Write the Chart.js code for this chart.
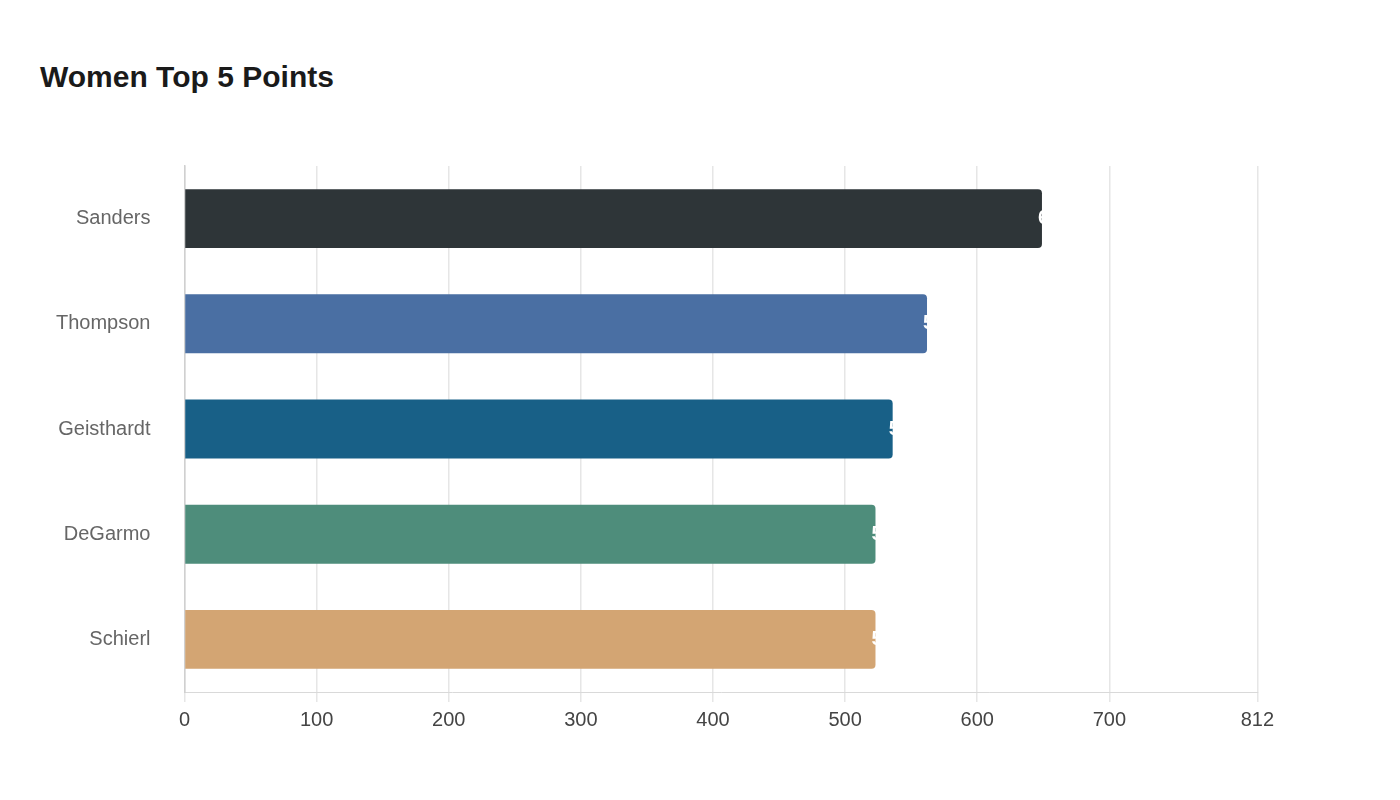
<!DOCTYPE html>
<html>
<head>
<meta charset="utf-8">
<script src="https://cdn.jsdelivr.net/npm/chart.js@4"></script>
<style>
  html, body { margin: 0; padding: 0; background: #fff; }
  #wrap { position: relative; width: 1400px; height: 800px; }
  h1 { position: absolute; left: 40px; top: 60px; margin: 0; font: bold 30px "Liberation Sans", Arial, sans-serif; color: #1a1a1a; }
  #box { position: absolute; left: 30px; top: 128px; width: 1250px; height: 610px; }
</style>
</head>
<body>
<div id="wrap">
  <h1>Women Top 5 Points</h1>
  <div id="box"><canvas id="chart"></canvas></div>
</div>
<script>
const players = ["Sanders", "Thompson", "Geisthardt", "DeGarmo", "Schierl"];
const points = [649, 562, 536, 523, 523];
const barColors = ["#2e3538", "#4a6fa3", "#186087", "#4e8d7b", "#d3a573"];
const axisMax = 812;

const endLabels = {
  id: "endLabels",
  afterDatasetsDraw(chart) {
    const ctx = chart.ctx;
    const meta = chart.getDatasetMeta(0);
    ctx.save();
    ctx.font = "bold 20px 'Liberation Sans', Arial, sans-serif";
    ctx.fillStyle = "#ffffff";
    ctx.textAlign = "left";
    ctx.textBaseline = "middle";
    meta.data.forEach((bar, i) => {
      ctx.fillText(String(points[i]), bar.x - 4, bar.y);
    });
    ctx.restore();
  }
};

new Chart(document.getElementById("chart"), {
  type: "bar",
  data: {
    labels: players,
    datasets: [{
      data: points,
      backgroundColor: barColors,
      borderRadius: 4,
      borderSkipped: "start",
      barPercentage: 0.56,
      categoryPercentage: 1
    }]
  },
  options: {
    indexAxis: "y",
    responsive: true,
    maintainAspectRatio: false,
    animation: false,
    layout: { padding: { right: 10 } },
    plugins: { legend: { display: false }, tooltip: { enabled: false } },
    scales: {
      x: {
        min: 0,
        max: axisMax,
        afterBuildTicks(axis) {
          const t = [];
          for (let v = 0; v <= 700; v += 100) t.push({ value: v });
          t.push({ value: axisMax });
          axis.ticks = t;
        },
        grid: { color: "#e6e6e6", lineWidth: 1.5, tickLength: 10 },
        border: { color: "#d9d9d9" },
        ticks: { color: "#444", font: { size: 20, family: "'Liberation Sans', Arial, sans-serif" }, padding: 6, maxRotation: 0 }
      },
      y: {
        grid: { display: false },
        border: { color: "#d0d0d0", width: 1.5 },
        ticks: { color: "#666", font: { size: 20, family: "'Liberation Sans', Arial, sans-serif" }, padding: 26 }
      }
    }
  },
  plugins: [endLabels]
});
</script>
</body>
</html>
